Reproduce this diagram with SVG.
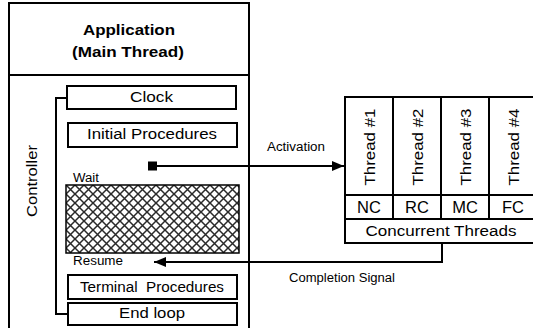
<svg xmlns="http://www.w3.org/2000/svg" width="533" height="328" viewBox="0 0 533 328">
  <defs>
    <pattern id="crosshatch" x="66" y="185" width="9" height="9" patternUnits="userSpaceOnUse">
      <path d="M0,0 L9,9 M9,0 L0,9" stroke="#2a2a2a" stroke-width="1.5" fill="none"/>
    </pattern>
    <marker id="arrow" viewBox="0 0 12 10" refX="12" refY="5" markerWidth="12" markerHeight="10" markerUnits="userSpaceOnUse" orient="auto">
      <path d="M0,0 L12,5 L0,10 Z" fill="#000"/>
    </marker>
  </defs>
  <style>
    .box { fill: #fff; stroke: #000; stroke-width: 2; }
    .line { fill: none; stroke: #000; stroke-width: 2; }
    text { font-family: "Liberation Sans", Arial, sans-serif; fill: #000; }
    .lbl { font-size: 15.5px; text-anchor: middle; }
    .code { font-size: 16.5px; text-anchor: middle; }
    .title { font-size: 15px; font-weight: bold; text-anchor: middle; }
    .small { font-size: 12px; }
  </style>
  <rect width="533" height="328" fill="#fff"/>

  <!-- main application frame -->
  <g id="application">
    <path class="line" d="M9,330 L9,3 L249,3 L249,330 M9,75 L249,75"/>
    <text class="title" x="129" y="35" textLength="92" lengthAdjust="spacingAndGlyphs">Application</text>
    <text class="title" x="128" y="57" textLength="112" lengthAdjust="spacingAndGlyphs">(Main Thread)</text>
  </g>

  <!-- controller loop bracket -->
  <g id="controller">
    <path class="line" d="M67,98 L56,98 L56,314 L68,314"/>
    <text class="lbl" transform="translate(37,181) rotate(-90)" textLength="72" lengthAdjust="spacingAndGlyphs">Controller</text>
  </g>

  <g id="clock">
    <rect class="box" x="67" y="86" width="169" height="23"/>
    <text class="lbl" x="151.5" y="102" textLength="43" lengthAdjust="spacingAndGlyphs">Clock</text>
  </g>

  <g id="initial-procedures">
    <rect class="box" x="68" y="123" width="169" height="24"/>
    <text class="lbl" x="152" y="139" textLength="130" lengthAdjust="spacingAndGlyphs">Initial Procedures</text>
  </g>

  <g id="wait">
    <text class="small" x="73" y="182" textLength="26" lengthAdjust="spacingAndGlyphs">Wait</text>
    <rect x="66" y="185" width="173" height="68" fill="url(#crosshatch)" stroke="#000" stroke-width="1.5"/>
    <text class="small" x="73" y="265" textLength="50" lengthAdjust="spacingAndGlyphs">Resume</text>
  </g>

  <g id="terminal-procedures">
    <rect class="box" x="68" y="275" width="169" height="24"/>
    <text class="lbl" x="152" y="292" textLength="144" lengthAdjust="spacingAndGlyphs" xml:space="preserve">Terminal  Procedures</text>
  </g>

  <g id="end-loop">
    <rect class="box" x="68" y="303" width="169" height="22"/>
    <text class="lbl" x="152" y="318" textLength="66" lengthAdjust="spacingAndGlyphs">End loop</text>
  </g>

  <!-- concurrent thread table -->
  <g id="concurrent-threads">
    <rect class="box" x="345" y="97" width="192" height="146"/>
    <path class="line" d="M345,195 L537,195 M345,219 L537,219 M393,97 L393,219 M441,97 L441,219 M489,97 L489,219"/>
    <text class="lbl" transform="translate(374.5,147) rotate(-90)" textLength="77" lengthAdjust="spacingAndGlyphs">Thread #1</text>
    <text class="lbl" transform="translate(422.5,147) rotate(-90)" textLength="77" lengthAdjust="spacingAndGlyphs">Thread #2</text>
    <text class="lbl" transform="translate(470.5,147) rotate(-90)" textLength="77" lengthAdjust="spacingAndGlyphs">Thread #3</text>
    <text class="lbl" transform="translate(518.5,147) rotate(-90)" textLength="77" lengthAdjust="spacingAndGlyphs">Thread #4</text>
    <text class="code" x="369" y="212.5">NC</text>
    <text class="code" x="417" y="212.5">RC</text>
    <text class="code" x="465" y="212.5">MC</text>
    <text class="code" x="513" y="212.5">FC</text>
    <text class="lbl" x="441" y="236" textLength="151" lengthAdjust="spacingAndGlyphs">Concurrent Threads</text>
  </g>

  <!-- signals between main thread and workers -->
  <g id="connectors">
    <rect x="148" y="161.5" width="9" height="9" fill="#000"/>
    <path class="line" d="M157,166 L344,166" marker-end="url(#arrow)"/>
    <text class="small" x="267" y="151" textLength="58" lengthAdjust="spacingAndGlyphs">Activation</text>
    <path class="line" d="M442,243 L442,262 L154,262" marker-end="url(#arrow)"/>
    <text class="small" x="289" y="282" textLength="106" lengthAdjust="spacingAndGlyphs">Completion Signal</text>
  </g>
</svg>
